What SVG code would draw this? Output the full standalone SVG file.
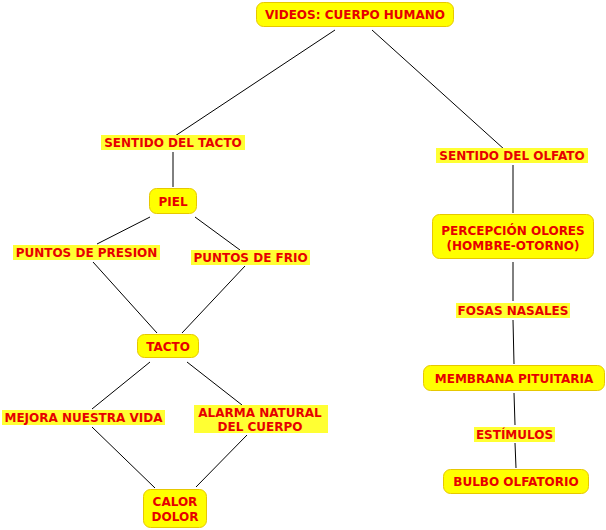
<svg xmlns="http://www.w3.org/2000/svg" width="606" height="530" viewBox="0 0 606 530">
<style>
.box{fill:#ffff00;stroke:#e6c800;stroke-width:1}
.lab{fill:#ffff33}
.t{font-family:"DejaVu Sans",Verdana,sans-serif;font-weight:bold;font-size:12px;fill:#e60000;text-anchor:middle}
.c{stroke:#000;stroke-width:1;fill:none}
</style>
<rect width="606" height="530" fill="#fff"/>
<g id="connectors">
<line class="c" x1="335" y1="30" x2="175" y2="136"/>
<line class="c" x1="372" y1="30" x2="505" y2="150"/>
<line class="c" x1="173" y1="152" x2="173" y2="187"/>
<line class="c" x1="150" y1="217" x2="97" y2="244"/>
<line class="c" x1="195" y1="217" x2="240" y2="250"/>
<line class="c" x1="93" y1="262" x2="157" y2="333"/>
<line class="c" x1="245" y1="266" x2="182" y2="333"/>
<line class="c" x1="150" y1="362" x2="92" y2="409"/>
<line class="c" x1="187" y1="362" x2="242" y2="405"/>
<line class="c" x1="92" y1="427" x2="155" y2="488"/>
<line class="c" x1="247" y1="435" x2="196" y2="487"/>
<line class="c" x1="513" y1="165" x2="513" y2="213"/>
<line class="c" x1="513" y1="262" x2="513" y2="301"/>
<line class="c" x1="513" y1="320" x2="514" y2="364"/>
<line class="c" x1="514" y1="393" x2="515" y2="425"/>
<line class="c" x1="515" y1="443" x2="516" y2="468"/>
</g>
<g id="n1"><rect class="box" x="256.500" y="2.500" width="197" height="24" rx="7"/><text class="t" x="355" y="19">VIDEOS: CUERPO HUMANO</text></g>
<g id="n2"><rect class="lab" x="101" y="135" width="144" height="15"/><text class="t" x="173" y="147">SENTIDO DEL TACTO</text></g>
<g id="n3"><rect class="box" x="149.500" y="188.500" width="47" height="25" rx="7"/><text class="t" x="173" y="206">PIEL</text></g>
<g id="n4"><rect class="lab" x="13" y="245" width="147" height="15"/><text class="t" x="86.500" y="257">PUNTOS DE PRESION</text></g>
<g id="n5"><rect class="lab" x="191" y="250" width="119" height="15"/><text class="t" x="250.500" y="262">PUNTOS DE FRIO</text></g>
<g id="n6"><rect class="box" x="137.500" y="334.500" width="61" height="23" rx="7"/><text class="t" x="168" y="351">TACTO</text></g>
<g id="n7"><rect class="lab" x="2" y="410" width="163" height="15"/><text class="t" x="83.500" y="422">MEJORA NUESTRA VIDA</text></g>
<g id="n8"><rect class="lab" x="194" y="405" width="134" height="28"/><text class="t" x="260" y="417">ALARMA NATURAL</text><text class="t" x="260" y="431">DEL CUERPO</text></g>
<g id="n9"><rect class="box" x="143.500" y="489.500" width="63" height="38" rx="7"/><text class="t" x="175" y="506">CALOR</text><text class="t" x="175" y="521">DOLOR</text></g>
<g id="n10"><rect class="lab" x="436" y="148" width="152" height="15"/><text class="t" x="512" y="160">SENTIDO DEL OLFATO</text></g>
<g id="n11"><rect class="box" x="432.500" y="214.500" width="161" height="44" rx="7"/><text class="t" x="513" y="235">PERCEPCIÓN OLORES</text><text class="t" x="513" y="250">(HOMBRE-OTORNO)</text></g>
<g id="n12"><rect class="lab" x="456" y="303" width="114" height="15"/><text class="t" x="513" y="315">FOSAS NASALES</text></g>
<g id="n13"><rect class="box" x="423.500" y="365.500" width="181" height="25" rx="7"/><text class="t" x="514" y="383">MEMBRANA PITUITARIA</text></g>
<g id="n14"><rect class="lab" x="474" y="427" width="81" height="15"/><text class="t" x="514.500" y="439">ESTÍMULOS</text></g>
<g id="n15"><rect class="box" x="443.500" y="469.500" width="145" height="24" rx="7"/><text class="t" x="516" y="486">BULBO OLFATORIO</text></g>
</svg>
